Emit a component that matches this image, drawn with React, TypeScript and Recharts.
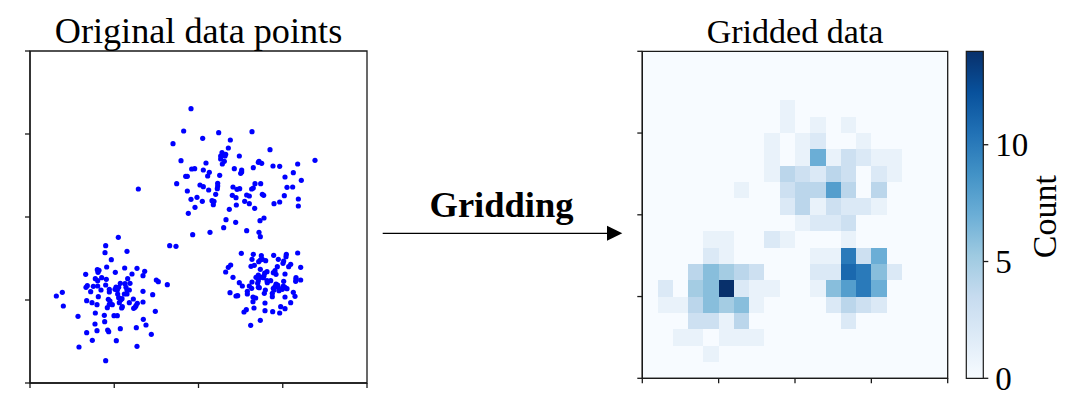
import { BarChart, Bar, ScatterChart, Scatter, XAxis, YAxis, ReferenceArea } from 'recharts';

// Unlabelled axes: point values are in the plot's own arbitrary units
const upperX = [48.3,46.1,42.9,45.3,46.7,47.2,44,47.2,32.5,48.3,51.8,56.6,66.6,60.1,59.5,72,85.5,57.6,58.7,57.2,58.5,57.2,62.8,58.3,57.7,52.8,68.7,69.5,68.5,72.9,74.9,80.3,67,61.3,63.5,63.2,63.5,52,53.8,53.3,48.5,49.4,56.9,76.5,79,81.4,51,52,53.6,56.3,56.3,56.2,55.7,60.9,62.9,62.1,67.5,69.2,67,66.5,77.1,78.8,60.7,61.8,65,65.8,69.7,70.1,76.3,80.5,50.1,51.7,54.6,55.2,55,64.4,65.8,61.9,73.2,74.9,80.5,49.5,59.8,67.4,70.2,69,58.8,61.7,58.1,65,54,68.7,48.8,69.1,47.5];
const upperY = [82.3,75.6,71.8,66.7,62,62,59.8,57.6,58.2,55.1,73.4,75.1,75.4,72.9,70.5,70,66.8,69.1,68.6,68.1,68.1,67.2,68.1,66.5,65.7,66,66.5,65.9,66.2,65.1,65,65.7,64.6,64.3,63.9,62.9,63.3,63.9,63.2,62.1,64.2,64.3,62.3,61.8,63.1,60.8,59.4,58.9,57.9,59.9,59.1,58.3,56.6,58.8,58.3,58.1,59.8,59.8,58.5,58.2,58.7,58.8,56.3,55.6,56.4,56.1,56.6,56.3,56.2,55.2,55.7,54.5,54.7,54.5,53.5,54.5,53.8,53.4,53.8,54.3,53.1,52.7,52.1,52.4,49.5,48.7,49,48.2,46.6,45.7,45.2,45.2,44.5,43.9,50.9];

const leftX = [26.5,22.7,41.9,43.8,22.5,29.1,24.4,23,28.4,32.1,20.2,20.7,20.4,34.4,25.6,16.7,30.6,33.9,29.3,19.6,20.3,21.5,22.9,37.9,38.5,41.2,27.1,28.5,30,22.7,17.2,16.8,19,20.3,25.8,26.6,25.5,26.2,23.8,23.8,21.3,18.2,28.8,29.1,29.8,33.9,26.3,28.3,29.1,9.7,7.9,36.8,20.5,26.6,27.6,27.2,23.5,24,31,17,18.6,26.8,29.8,33.9,32.2,31.8,31.5,31.1,20.1,24.7,23.8,23.2,27.7,27.5,10,37.6,19.6,14.4,22.3,25.2,26.2,34,22.4,19.5,34.8,31.9,27.1,20.1,23.3,23.6,17,36.4,18.7,25.9,14.7,32.1,22.7];
const leftY = [43.7,41.2,41.2,41,39.1,39.5,37,34.8,34.5,34.4,34,33.8,33.2,33.5,33.2,32.6,32.7,32.2,31.3,31.3,30.7,31.6,31.1,30.9,30.4,29.5,29.9,29.8,29.9,29.4,29.2,28.7,29,29.1,28.8,28.7,28.1,27.9,28.1,27.3,27.9,27.4,28.7,27.9,27.9,27.5,26.7,26.7,26.7,27.2,26.1,26.5,25.9,25.6,25.3,24.9,25.1,24.6,25.2,24.7,24.1,24.1,24.1,24.3,23.9,23.2,22.7,22.4,23.5,23.5,23.6,22.6,22.9,22.5,23.1,21.5,21,20,20.3,20.2,20.2,19.1,18.4,17.7,17.4,16.6,16.3,15.7,15.9,15.4,15.1,14.6,12.8,12.7,10.8,11,6.7];

const rightX = [63.4,80.3,67,69.4,73.1,76.9,76.8,66.6,74.5,69.1,68.6,69.7,70.7,76.1,75.9,60.2,59.5,66.3,67.3,78.2,77.6,74.2,81.2,69.1,58.7,73.5,73,73.8,71.1,70.4,70.2,76.5,68.5,67.8,69.2,60.9,70,79.8,81.2,79.7,79.8,62.8,63.7,66.6,65.8,66.5,68.5,68.3,68.5,68.8,71.1,71.2,72.2,76.1,73.8,74.3,73.5,73,73.2,74.5,74.7,76,75.7,76.5,77.1,70.6,70.3,65.2,65.2,60,61.8,62.3,72.7,72.7,79,79.5,76.5,66.9,67.7,66.9,70.5,78.2,67.2,75.2,76.5,70.5,72.8,74.9,64.9,64.2,69.1,66.2];
const rightY = [38.9,39,38.6,38.2,38.3,38.6,37.9,37.1,37.1,36.9,36.4,37.1,36.7,36.6,35.9,35.4,34.7,35,35.3,35.6,34.9,34.9,34.7,34.1,33.3,33.7,33.1,32.6,33.4,33,32.2,32.7,32.4,31.7,31.7,31.7,31.6,31.6,30.9,30.5,31.2,30.1,29.1,30.3,29.1,28.4,30.7,29.9,28.7,28.6,30.7,30.1,30.7,30.5,29.7,29.4,28.9,28.4,27.9,28.7,27.7,29.1,28.1,28.7,28.3,27.9,26.9,27.5,26.7,27.1,26.1,26.2,26.9,25.9,27.2,26,25.8,25.8,25.5,24.4,24,24.1,22.5,22.9,22.3,21.7,21.4,21,22,21.3,18.8,17.3];

const scatterMaxX = 101.1;
const scatterMaxY = 99.6;
const scatterTicksX = [0, 25.275, 50.55, 75.825, 101.1];
const scatterTicksY = [0, 24.9, 49.8, 74.7, 99.6];

// Histogram counts, top row first, 20 x 20 bins
const gridCounts = [
  [0,0,0,0,0,0,0,0,0,0,0,0,0,0,0,0,0,0,0,0],
  [0,0,0,0,0,0,0,0,0,0,0,0,0,0,0,0,0,0,0,0],
  [0,0,0,0,0,0,0,0,0,0,0,0,0,0,0,0,0,0,0,0],
  [0,0,0,0,0,0,0,0,0,1,0,0,0,0,0,0,0,0,0,0],
  [0,0,0,0,0,0,0,0,0,1,0,1,0,1,0,0,0,0,0,0],
  [0,0,0,0,0,0,0,0,1,0,1,2,0,0,1,0,0,0,0,0],
  [0,0,0,0,0,0,0,0,1,0,1,7,1,3,2,1,1,0,0,0],
  [0,0,0,0,0,0,0,0,1,4,3,2,4,3,0,2,1,0,0,0],
  [0,0,0,0,0,0,1,0,0,3,4,4,8,4,0,4,0,0,0,0],
  [0,0,0,0,0,0,0,0,0,2,4,1,3,2,2,1,0,0,0,0],
  [0,0,0,0,0,0,0,0,0,0,1,2,2,3,0,0,0,0,0,0],
  [0,0,0,0,1,1,0,0,2,1,0,0,0,1,0,0,0,0,0,0],
  [0,0,0,0,2,1,0,0,0,0,0,1,1,10,3,7,0,0,0,0],
  [0,0,0,4,6,5,4,3,0,0,0,2,2,11,10,6,2,0,0,0],
  [0,2,0,5,6,14,2,1,1,0,0,1,6,8,10,7,0,0,0,0],
  [0,1,1,4,6,5,6,1,0,0,0,0,2,4,3,2,0,0,0,0],
  [0,0,0,3,3,1,4,0,0,0,0,0,0,2,0,0,0,0,0,0],
  [0,0,1,1,0,1,1,1,0,0,0,0,0,0,0,0,0,0,0,0],
  [0,0,0,0,1,0,0,0,0,0,0,0,0,0,0,0,0,0,0,0],
  [0,0,0,0,0,0,0,0,0,0,0,0,0,0,0,0,0,0,0,0],
];
const gridTicks = [0, 5, 10, 15, 20];
const countMax = 14;
const countTicks = [0, 5, 10];

// matplotlib Blues
const BLUES = ['#f7fbff','#deebf7','#c6dbef','#9ecae1','#6baed6','#4292c6','#2171b5','#08519c','#08306b'];

const SERIF = '"Liberation Serif", serif';
const AXIS = '#1a1a1a';
const axisLine = { stroke: AXIS, strokeWidth: 1.3 };

function hexToRgb(h: string) {
  return [1, 3, 5].map(i => parseInt(h.slice(i, i + 2), 16));
}

function bluesColor(t: number) {
  const p = Math.min(t, 1) * (BLUES.length - 1);
  const i = Math.min(Math.floor(p), BLUES.length - 2);
  const a = hexToRgb(BLUES[i]);
  const b = hexToRgb(BLUES[i + 1]);
  const c = a.map((v, k) => Math.round(v + (b[k] - v) * (p - i)));
  return `rgb(${c[0]},${c[1]},${c[2]})`;
}

const zip = (xs: number[], ys: number[]) => xs.map((x, i) => ({ x, y: ys[i] }));

// zero cells are left to the pale plot background
const gridCells = gridCounts
  .flatMap((row, r) => row.map((count, c) => ({ col: c + 0.5, row: 19.5 - r, count })))
  .filter(d => d.count > 0);

const CELL_W = 305.4 / 20;
const CELL_H = 327 / 20;

function HeatCell(props: any) {
  const { cx, cy, payload } = props;
  return (
    <rect
      x={cx - CELL_W / 2}
      y={cy - CELL_H / 2}
      width={CELL_W}
      height={CELL_H}
      fill={bluesColor(payload.count / countMax)}
      shapeRendering="crispEdges"
    />
  );
}

function Dot(props: any) {
  return <circle cx={props.cx} cy={props.cy} r={2.6} fill="#0000ff" />;
}

const noLabel = () => <g />;

function PointsPanel() {
  return (
    <div style={{ position: 'absolute', left: 0, top: 0 }}>
      {/* axes need 1px of size or Recharts skips them */}
      <ScatterChart width={400} height={418} margin={{ left: 29, right: 33, top: 51, bottom: 34 }}>
        <XAxis type="number" dataKey="x" domain={[0, scatterMaxX]} ticks={scatterTicksX} height={1} tick={noLabel} tickSize={5} axisLine={axisLine} tickLine={axisLine} />
        <YAxis type="number" dataKey="y" domain={[0, scatterMaxY]} ticks={scatterTicksY} width={1} tick={noLabel} tickSize={5} axisLine={axisLine} tickLine={axisLine} />
        <ReferenceArea x1={0} x2={scatterMaxX} y1={0} y2={scatterMaxY} fill="none" stroke={AXIS} strokeWidth={1.3} />
        <Scatter data={zip(upperX, upperY)} shape={Dot} isAnimationActive={false} />
        <Scatter data={zip(leftX, leftY)} shape={Dot} isAnimationActive={false} />
        <Scatter data={zip(rightX, rightY)} shape={Dot} isAnimationActive={false} />
      </ScatterChart>
    </div>
  );
}

function GridPanel() {
  return (
    <div style={{ position: 'absolute', left: 600, top: 0 }}>
      <ScatterChart width={360} height={418} margin={{ left: 41.3, right: 12.3, top: 51.3, bottom: 38.7 }}>
        <XAxis type="number" dataKey="col" domain={[0, 20]} ticks={gridTicks} height={1} tick={noLabel} tickSize={5} axisLine={axisLine} tickLine={axisLine} />
        <YAxis type="number" dataKey="row" domain={[0, 20]} ticks={gridTicks} width={1} tick={noLabel} tickSize={5} axisLine={axisLine} tickLine={axisLine} />
        <ReferenceArea x1={0} x2={20} y1={0} y2={20} fill={BLUES[0]} fillOpacity={1} stroke={AXIS} strokeWidth={1.3} />
        <Scatter data={gridCells} shape={HeatCell} isAnimationActive={false} />
      </ScatterChart>
    </div>
  );
}

function Colorbar() {
  return (
    <div style={{ position: 'absolute', left: 950, top: 0 }}>
      <BarChart
        width={140}
        height={418}
        data={[{ name: 'count', value: countMax }]}
        barCategoryGap={0}
        margin={{ left: 16.3, right: 16.7, top: 51.3, bottom: 39.7 }}
      >
        <defs>
          <linearGradient id="bluesBar" x1="0" y1="1" x2="0" y2="0">
            {BLUES.map((c, i) => (
              <stop key={i} offset={`${(i / (BLUES.length - 1)) * 100}%`} stopColor={c} />
            ))}
          </linearGradient>
        </defs>
        <XAxis dataKey="name" hide />
        <YAxis
          orientation="right"
          width={90}
          domain={[0, countMax]}
          ticks={countTicks}
          tickSize={5}
          tickMargin={7}
          axisLine={false}
          tickLine={axisLine}
          tick={{ fontFamily: SERIF, fontSize: 33, fill: '#000' }}
        />
        <Bar dataKey="value" fill="url(#bluesBar)" stroke={AXIS} strokeWidth={1.2} isAnimationActive={false} />
      </BarChart>
    </div>
  );
}

export default function App() {
  return (
    <div style={{ position: 'absolute', left: 0, top: 0, width: 1090, height: 418, background: '#fff', overflow: 'hidden' }}>
      <PointsPanel />
      <GridPanel />
      <Colorbar />
      {/* Titles, arrow and colourbar label */}
      <svg width={1090} height={418} style={{ position: 'absolute', left: 0, top: 0, pointerEvents: 'none' }} fontFamily={SERIF}>
        <text x={198.5} y={43} textAnchor="middle" fontSize={36.2}>Original data points</text>
        <text x={795} y={43} textAnchor="middle" fontSize={34}>Gridded data</text>
        <text x={501.5} y={217} textAnchor="middle" fontSize={36.5} fontWeight="bold">Gridding</text>
        <line x1={382.7} y1={233.3} x2={608} y2={233.3} stroke="#000" strokeWidth={1.3} />
        <polygon points="607,225.8 622.3,233.3 607,240.8" fill="#000" />
        <text transform="translate(1056,216.7) rotate(-90)" textAnchor="middle" fontSize={34}>Count</text>
      </svg>
    </div>
  );
}
